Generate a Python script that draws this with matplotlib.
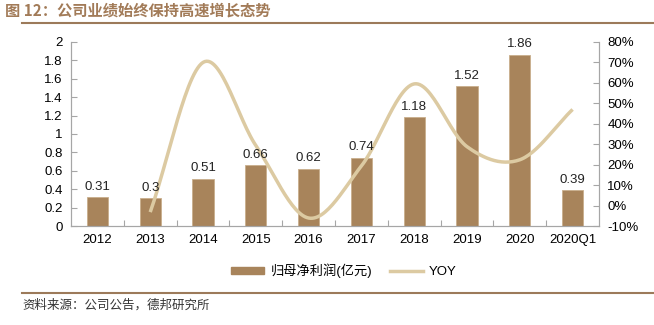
import numpy as np
import matplotlib.pyplot as plt
from matplotlib.lines import Line2D
from matplotlib.patches import Patch

plt.rcParams['font.family'] = ['Liberation Sans', 'Noto Sans CJK SC', 'DejaVu Sans']

years = ['2012', '2013', '2014', '2015', '2016', '2017', '2018', '2019', '2020', '2020Q1']
profit = [0.31, 0.30, 0.51, 0.66, 0.62, 0.74, 1.18, 1.52, 1.86, 0.39]
profit_labels = ['0.31', '0.3', '0.51', '0.66', '0.62', '0.74', '1.18', '1.52', '1.86', '0.39']
yoy_idx = [1, 2, 3, 4, 5, 6, 7, 8, 9]
yoy = [-3.2, 70.0, 29.4, -6.1, 19.4, 59.5, 28.8, 22.4, 47.0]

bar_col = '#A8845B'
line_col = '#DCCAA2'
title_col = '#A27B58'
grey = '#A6A6A6'


def smooth(xs, ys, n=30):
    # catmull-rom, like excel's smoothed line
    xs = np.asarray(xs, float)
    ys = np.asarray(ys, float)
    px = np.concatenate([[2 * xs[0] - xs[1]], xs, [2 * xs[-1] - xs[-2]]])
    py = np.concatenate([[2 * ys[0] - ys[1]], ys, [2 * ys[-1] - ys[-2]]])
    ox, oy = [], []
    t = np.linspace(0, 1, n)
    for i in range(1, len(px) - 2):
        for p, o in ((px, ox), (py, oy)):
            p0, p1, p2, p3 = p[i - 1], p[i], p[i + 1], p[i + 2]
            o.extend(0.5 * (2 * p1 + (-p0 + p2) * t + (2 * p0 - 5 * p1 + 4 * p2 - p3) * t ** 2
                            + (-p0 + 3 * p1 - 3 * p2 + p3) * t ** 3))
    return np.array(ox), np.array(oy)


fig = plt.figure(figsize=(6.54, 3.25), dpi=100)
ax = fig.add_axes([0.1086, 0.3046, 0.8073, 0.5662])
ax2 = ax.twinx()

x = np.arange(len(years))
ax.bar(x, profit, width=0.4, color=bar_col, edgecolor='#C9AE8C', linewidth=0.6, zorder=2)

ax.set_ylim(0, 2)
ax.set_yticks(np.arange(0, 2.01, 0.2))
ax.set_yticklabels(['0', '0.2', '0.4', '0.6', '0.8', '1', '1.2', '1.4', '1.6', '1.8', '2'])
ax.set_xlim(-0.5, len(years) - 0.5)
ax.set_xticks(np.arange(0.5, len(years) - 0.5, 1), minor=False)
ax.set_xticklabels([])
ax.set_xticks(x, minor=True)
ax.set_xticklabels(years, minor=True)
ax.tick_params(axis='x', which='minor', length=0, labelsize=9.5, pad=6)
ax.tick_params(axis='x', which='major', direction='in', length=4, color=grey)
ax.tick_params(axis='y', direction='in', length=4, color=grey, labelsize=9.5, pad=6)

sx, sy = smooth(yoy_idx, yoy)
ax2.plot(sx, sy, color=line_col, lw=2.5, zorder=3, solid_capstyle='butt')
ax2.set_ylim(-10, 80)
ax2.set_yticks(np.arange(-10, 81, 10))
ax2.set_yticklabels([f'{v}%' for v in range(-10, 81, 10)])
ax2.tick_params(axis='y', direction='in', length=4, color=grey, labelsize=9.5, pad=6)

# bar labels sit on top of the yoy line
for xi, v, s in zip(x, profit, profit_labels):
    ax2.text(xi, v + 0.05, s, ha='center', va='bottom', fontsize=9.5, color='#222222',
             transform=ax.transData, zorder=5)

for a in (ax, ax2):
    a.spines['top'].set_visible(False)
    for s in ('left', 'right', 'bottom'):
        a.spines[s].set_color(grey)
        a.spines[s].set_linewidth(0.8)

handles = [Patch(color=bar_col), Line2D([], [], color=line_col, lw=2.5)]
fig.legend(handles, ['归母净利润(亿元)', 'YOY'], loc='center', bbox_to_anchor=(0.526, 0.166),
           ncol=2, frameon=False, fontsize=9.5, handlelength=2.5, handleheight=0.5,
           handletextpad=0.5, columnspacing=1.3)

fig.text(0.008, 0.968, '图 12：公司业绩始终保持高速增长态势', fontsize=11, fontweight='bold',
         color=title_col, va='center', family=['Noto Sans CJK SC', 'DejaVu Sans'])
fig.add_artist(Line2D([0.034, 1.0], [0.929, 0.929], color='#9C7A5A', lw=1.5))
fig.add_artist(Line2D([0.034, 1.0], [0.098, 0.098], color='#9C7A5A', lw=1.5))
fig.text(0.034, 0.06, '资料来源：公司公告，德邦研究所', fontsize=9, color='#333333',
         va='center', family=['Noto Sans CJK SC', 'DejaVu Sans'])

fig.savefig('out.png', dpi=100)
